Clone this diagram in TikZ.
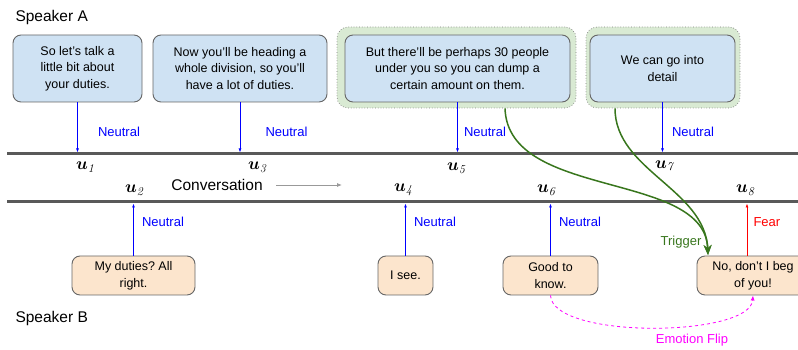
\documentclass[tikz,border=0pt]{standalone}
\usepackage[no-math]{fontspec}
\setmainfont{Liberation Sans}
\usepackage{amsmath}
\usepackage{bm}
\usetikzlibrary{arrows.meta, positioning, calc}
\definecolor{boxblue}{HTML}{CFE2F3}
\definecolor{boxpeach}{HTML}{FCE5CD}
\definecolor{boxgreen}{HTML}{D9EAD3}
\definecolor{edgegray}{HTML}{666666}
\definecolor{trackgray}{HTML}{595959}
\definecolor{triggreen}{HTML}{38761D}
\definecolor{flipmagenta}{HTML}{FF00FF}
\tikzset{
  utt/.style={draw=edgegray, line width=0.9pt, rounded corners=8pt, align=center,
    inner sep=0pt, font=\fontsize{12.5}{16.7}\selectfont},
  utta/.style={utt, fill=boxblue, minimum height=67pt},
  uttb/.style={utt, fill=boxpeach, minimum height=39pt},
  halo/.style={draw=gray, dotted, line width=0.7pt, fill=boxgreen, rounded corners=11pt, minimum height=81pt},
  emo/.style={-{Latex[length=4pt,width=3pt]}, line width=0.8pt},
  emolabel/.style={font=\fontsize{13}{15}\selectfont, anchor=west},
  trig/.style={triggreen, line width=1.5pt, -{Stealth[length=10pt,width=8pt]}},
  track/.style={trackgray, line width=3pt},
  uttid/.style={font=\fontsize{18}{18}\selectfont},
  spk/.style={font=\fontsize{15.5}{17}\selectfont, anchor=west},
}
\frenchspacing

\begin{document}
\begin{tikzpicture}[x=1pt, y=1pt]
    \useasboundingbox (0,0) rectangle (798,350);
    % Speakers
    \node[spk] (spka) at (12,333) {Speaker A};
    \node[spk] (spkb) at (12,32) {Speaker B};
    % Conversation tracks
    \draw[track] (7,196) -- (798,196);
    \draw[track] (7,148) -- (798,148);
    \node[font=\fontsize{15.5}{17}\selectfont] (conv) at (217,165) {Conversation};
    \coordinate (convend) at (342,165);
    \draw[gray!80, line width=0.8pt, -{Latex[length=5pt,width=4pt]}] ($(conv.east)+(10,0)$) -- (convend);
    % Trigger halos
    \node[halo, minimum width=239pt] (h5) at (456.5,282.5) {};
    \node[halo, minimum width=154pt] (h7) at (663,282.5) {};
    % Speaker A utterances
    \node[utta, minimum width=129pt] (a1) at (77.5,281.5) {So let's talk a\\little bit about\\your duties.};
    \node[utta, minimum width=174pt] (a3) at (240,281.5) {Now you'll be heading a\\whole division, so you'll\\have a lot of duties.};
    \node[utta, minimum width=225pt] (a5) at (457.5,281.5) {But there'll be perhaps 30 people\\under you so you can dump a\\certain amount on them.};
    \node[utta, minimum width=145pt] (a7) at (662.5,281.5) {We can go into\\detail};
    % Speaker B utterances
    \node[uttb, minimum width=123pt] (b2) at (133.5,74.5) {My duties? All\\right.};
    \node[uttb, minimum width=55pt] (b4) at (405.5,74.5) {I see.};
    \node[uttb, minimum width=95pt] (b6) at (550.5,74.5) {Good to\\know.};
    \node[uttb, minimum width=112pt] (b8) at (753,74.5) {No, don't I beg\\of you!};
    % Emotion arrows
    \foreach \n/\x/\d in {1/77.5/17, 3/240/22, 5/457.5/3, 7/662.5/6} {
        \coordinate (t\n) at (\x,197.5);
        \draw[emo, blue] (a\n) -- (t\n);
        \node[emolabel, text=blue] (e\n) at (\x+\d,218) {Neutral};
    }
    \foreach \n/\x in {2/133.5, 4/405.5, 6/550.5} {
        \coordinate (t\n) at (\x,146.5);
        \draw[emo, blue] (b\n) -- (t\n);
        \node[emolabel, text=blue] (e\n) at (\x+5,128) {Neutral};
    }
    \coordinate (t8) at (747,146.5);
    \draw[emo, red] (b8.north -| t8) -- (t8);
    \node[emolabel, text=red] (e8) at (750,128) {Fear};
    % Utterance ids
    \node[uttid] (u1) at (86,183) {$\bm{u}_{\mathit{1}}$};
    \node[uttid] (u3) at (258,183) {$\bm{u}_{\mathit{3}}$};
    \node[uttid] (u5) at (457,182) {$\bm{u}_{\mathit{5}}$};
    \node[uttid] (u7) at (665,183) {$\bm{u}_{\mathit{7}}$};
    \node[uttid] (u2) at (135,160) {$\bm{u}_{\mathit{2}}$};
    \node[uttid] (u4) at (404,160) {$\bm{u}_{\mathit{4}}$};
    \node[uttid] (u6) at (547,160) {$\bm{u}_{\mathit{6}}$};
    \node[uttid] (u8) at (746,160) {$\bm{u}_{\mathit{8}}$};
    % Triggers
    \coordinate (trg) at (708,95);
    \draw[trig] ($(h5.south)+(48.5,0)$) .. controls +(3,-92) and +(-3,85) .. (trg);
    \draw[trig] ($(h7.south)+(-48,0)$) .. controls +(0,-62) and +(-3,66) .. (trg);
    \node[emolabel, anchor=center, text=triggreen] (tl) at (681,108) {Trigger};
    % Emotion flip
    \draw[flipmagenta, dashed, line width=0.8pt, -{Latex[length=5pt,width=4pt]}]
        (b6.south) .. controls +(2,-44) and +(-3,-42) .. (b8.south);
    \node[emolabel, anchor=center, text=flipmagenta] (fl) at (692,10) {Emotion Flip};
\end{tikzpicture}
\end{document}
